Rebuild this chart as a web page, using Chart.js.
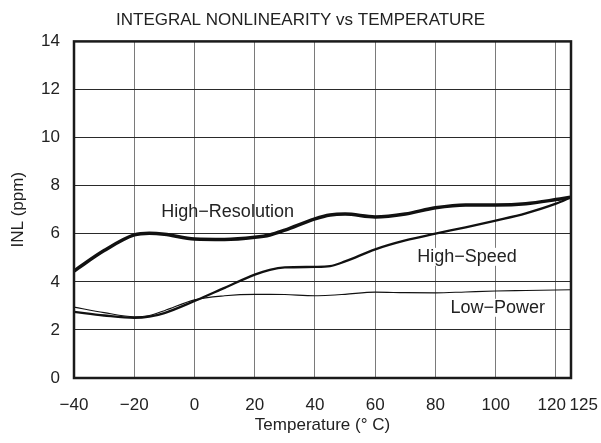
<!DOCTYPE html>
<html lang="en">
<head>
    <meta charset="UTF-8">
    <script src="https://cdn.jsdelivr.net/npm/chart.js@4.4.0/dist/chart.umd.min.js"></script>
    <title>Integral nonlinearity vs temperature</title>
    <style>
        body { margin: 0; background: #fff; }
        #wrap { width: 601px; height: 443px; }
    </style>
</head>
<body>
<div id="wrap"><canvas id="myChart"></canvas></div>
<script>
// temperature points (°C)
var temps     = [-40, -30, -20, -15, -10, 0, 10, 20, 25, 30, 40, 45, 50, 60, 70, 80, 90, 100, 110, 120, 125];
var highRes   = [4.45, 5.3, 5.95, 6.02, 5.98, 5.78, 5.76, 5.85, 5.95, 6.15, 6.62, 6.78, 6.82, 6.7, 6.82, 7.08, 7.2, 7.2, 7.25, 7.42, 7.52];
var highSpeed = [2.75, 2.6, 2.5, 2.55, 2.7, 3.2, 3.75, 4.3, 4.5, 4.6, 4.62, 4.65, 4.85, 5.35, 5.72, 6.0, 6.27, 6.55, 6.85, 7.25, 7.52];
var lowPower  = [2.95, 2.72, 2.55, 2.6, 2.8, 3.25, 3.42, 3.48, 3.48, 3.47, 3.42, 3.44, 3.48, 3.57, 3.55, 3.54, 3.58, 3.62, 3.64, 3.66, 3.67];

var xTicks = [-40, -20, 0, 20, 40, 60, 80, 100, 120, 125];
var seriesNames = ['High\u2212Resolution', 'High\u2212Speed', 'Low\u2212Power'];

function pts(vals) {
    return temps.map(function (t, i) { return { x: t, y: vals[i] }; });
}

function xLabel(v) {
    var s = v < 0 ? '\u2212' + Math.abs(v) : String(v);
    // 120 and 125 sit close together, nudge them apart like the original
    if (v === 125) return '\u2002\u2002\u2002' + s;
    if (v === 120) return s + '\u2002';
    return s;
}

var fontFam = '"Liberation Sans", Arial, sans-serif';

// labels placed next to the curves, with a white box behind like the original
var curveLabels = {
    id: 'curveLabels',
    afterDatasetsDraw: function (chart, args, opts) {
        var ctx = chart.ctx, xs = chart.scales.x, ys = chart.scales.y;
        ctx.save();
        ctx.font = '18px ' + fontFam;
        ctx.textAlign = 'center';
        ctx.textBaseline = 'middle';
        opts.items.forEach(function (it) {
            var px = xs.getPixelForValue(it.x), py = ys.getPixelForValue(it.y);
            var w = ctx.measureText(it.text).width;
            if (it.box) {
                ctx.fillStyle = '#fff';
                ctx.fillRect(px - w / 2 - 2, py - 9, w + 4, 18);
            }
            ctx.fillStyle = '#222';
            ctx.fillText(it.text, px, py);
        });
        ctx.restore();
    }
};

var frame = {
    id: 'frame',
    afterDraw: function (chart) {
        var a = chart.chartArea, ctx = chart.ctx;
        ctx.save();
        ctx.strokeStyle = '#1a1a1a';
        ctx.lineWidth = 2.5;
        ctx.strokeRect(a.left, a.top, a.right - a.left, a.bottom - a.top);
        ctx.restore();
    }
};

var ctx = document.getElementById('myChart').getContext('2d');
var graph = new Chart(ctx, {
    type: 'line',
    data: {
        datasets: [
            { label: seriesNames[0], data: pts(highRes), borderColor: '#111', borderWidth: 3.5 },
            { label: seriesNames[1], data: pts(highSpeed), borderColor: '#111', borderWidth: 2.3 },
            { label: seriesNames[2], data: pts(lowPower), borderColor: '#111', borderWidth: 1.1 }
        ]
    },
    options: {
        responsive: true,
        maintainAspectRatio: false,
        animation: false,
        elements: {
            point: { radius: 0 },
            line: { cubicInterpolationMode: 'monotone', fill: false }
        },
        layout: { padding: { left: 0, right: 0, top: 0, bottom: 7 } },
        plugins: {
            legend: { display: false },
            tooltip: { enabled: false },
            title: {
                display: true,
                text: 'INTEGRAL NONLINEARITY vs TEMPERATURE',
                color: '#222',
                font: { family: fontFam, size: 17, weight: 'normal' },
                padding: { top: 10, bottom: 11 }
            },
            curveLabels: {
                items: [
                    { text: seriesNames[0], x: 11, y: 6.9, box: false },
                    { text: seriesNames[1], x: 90.5, y: 5.04, box: true },
                    { text: seriesNames[2], x: 100.7, y: 2.92, box: true }
                ]
            }
        },
        scales: {
            x: {
                type: 'linear',
                min: -40,
                max: 125,
                afterBuildTicks: function (axis) {
                    axis.ticks = xTicks.map(function (v) { return { value: v }; });
                },
                // chart.js counts tick padding twice, so size the axis box by hand
                afterFit: function (axis) {
                    axis.height = 58;
                    axis.paddingLeft = 0;
                    axis.paddingRight = 30;
                },
                grid: { color: '#7a7a7a', lineWidth: 1, drawTicks: false },
                border: { display: false },
                ticks: {
                    autoSkip: false,
                    maxRotation: 0,
                    padding: 17,
                    color: '#222',
                    font: { family: fontFam, size: 17 },
                    callback: function (v) { return xLabel(v); }
                },
                title: {
                    display: true,
                    text: 'Temperature (\u00B0 C)',
                    color: '#222',
                    font: { family: fontFam, size: 17 },
                    padding: { top: 0, bottom: 0 }
                }
            },
            y: {
                min: 0,
                max: 14,
                afterFit: function (axis) {
                    axis.width = 74;
                },
                grid: { color: '#2a2a2a', lineWidth: 1, drawTicks: false },
                border: { display: false },
                ticks: {
                    stepSize: 2,
                    padding: 14,
                    color: '#222',
                    font: { family: fontFam, size: 17 }
                },
                title: {
                    display: true,
                    text: 'INL (ppm)',
                    color: '#222',
                    font: { family: fontFam, size: 17 },
                    padding: { top: 8, bottom: 0 }
                }
            }
        }
    },
    plugins: [curveLabels, frame]
});
</script>
</body>
</html>
